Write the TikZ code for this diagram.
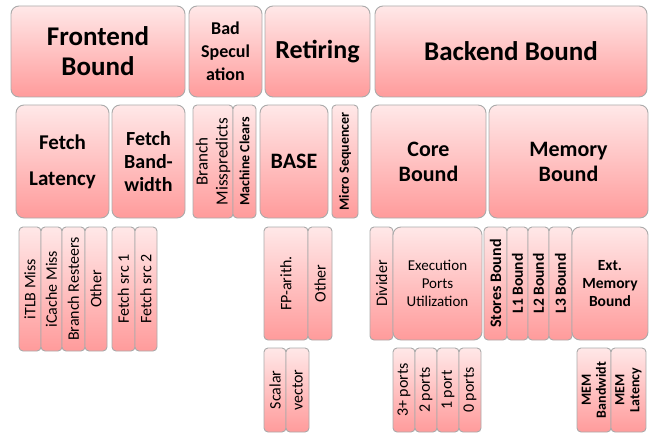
\documentclass[tikz,border=0pt]{standalone}
\usepackage{fontspec}
\setmainfont{Carlito}
\definecolor{ptop}{RGB}{255,232,232}
\definecolor{pbot}{RGB}{255,155,155}
\definecolor{bord}{RGB}{170,170,170}
\tikzset{
  box/.style={draw=bord, line width=0.9pt, top color=ptop, bottom color=pbot, rounded corners=#1},
  lbl/.style={inner sep=0pt, align=center, text=black},
  rot/.style={lbl, rotate=90},
  fbig/.style={font=\bfseries\fontsize{27}{30}\selectfont},
  fbad/.style={font=\bfseries\fontsize{18}{23}\selectfont},
  fmid/.style={font=\bfseries\fontsize{22}{25}\selectfont},
  fsmb/.style={font=\bfseries\fontsize{14}{15}\selectfont},
  fsm/.style={font=\fontsize{16}{19}\selectfont},
  fsmr/.style={font=\fontsize{15}{18}\selectfont},
  fsb/.style={font=\bfseries\fontsize{15.5}{18}\selectfont},
}
% #1 name, #2 radius, #3 x1, #4 y1, #5 x2, #6 y2, #7 text style, #8 text
\newcommand\tbox[8]{%
  \path[box=#2] (#3,#4) rectangle (#5,#6);
  \node[#7] (#1) at ({(#3+#5)/2},{(#4+#6)/2}) {#8};}
\begin{document}
\begin{tikzpicture}[x=1pt,y=-1pt]
\useasboundingbox (0,0) rectangle (650,433);
% Row 1
\tbox{fb}{8pt}{11}{6}{185}{97}{lbl,fbig}{Frontend\\Bound}
\tbox{bs}{8pt}{189}{6}{262}{97}{lbl,fbad}{Bad\\Specul\\ation}
\tbox{rt}{8pt}{265}{6}{370}{97}{lbl,font=\bfseries\fontsize{26}{30}\selectfont}{Retiring}
\tbox{bb}{8pt}{375}{6}{647}{97}{lbl,fbig}{Backend Bound}
% Row 2
\tbox{fl}{8pt}{16}{105}{109}{218}{lbl,font=\bfseries\fontsize{21}{36}\selectfont}{Fetch\\Latency}
\tbox{fbw}{8pt}{112}{105}{185}{218}{lbl,font=\bfseries\fontsize{20}{23}\selectfont}{Fetch\\Band-\\width}
\tbox{bm}{4pt}{193}{105}{233}{218}{rot,font=\fontsize{17}{20}\selectfont}{Branch\\Misspredicts}
\tbox{mc}{4pt}{233}{105}{256}{218}{rot,fsmb}{Machine Clears}
\tbox{base}{8pt}{260}{105}{328}{218}{lbl,fmid}{BASE}
\tbox{ms}{4pt}{332}{105}{358}{218}{rot,fsmb}{Micro Sequencer}
\tbox{cb}{8pt}{371}{105}{486}{218}{lbl,fmid}{Core\\Bound}
\tbox{mb}{8pt}{489}{105}{648}{218}{lbl,fmid}{Memory\\Bound}
% Row 3
\tbox{itlb}{4pt}{19}{227}{41}{351}{rot,fsm}{iTLB Miss}
\tbox{icm}{4pt}{41}{227}{62}{351}{rot,fsm}{iCache Miss}
\tbox{brs}{4pt}{62}{227}{85}{351}{rot,fsm}{Branch Resteers}
\tbox{oth}{4pt}{85}{227}{107}{351}{rot,fsm}{Other}
\tbox{fs1}{4pt}{112}{227}{135}{351}{rot,fsm}{Fetch src 1}
\tbox{fs2}{4pt}{135}{227}{157}{351}{rot,fsm}{Fetch src 2}
\tbox{fpa}{4pt}{264}{227}{308}{340}{rot,fsm}{FP-arith.}
\tbox{oth2}{4pt}{308}{227}{332}{340}{rot,fsm}{Other}
\tbox{div}{4pt}{370}{227}{393}{340}{rot,fsm}{Divider}
\tbox{epu}{8pt}{393}{227}{482}{340}{lbl,fsmr}{Execution\\Ports\\Utilization}
\tbox{sb}{4pt}{484}{227}{507}{340}{rot,font=\bfseries\fontsize{16}{18}\selectfont}{Stores Bound}
\tbox{l1}{4pt}{507}{227}{528}{340}{rot,fsb}{L1 Bound}
\tbox{l2}{4pt}{528}{227}{549}{340}{rot,fsb}{L2 Bound}
\tbox{l3}{4pt}{549}{227}{572}{340}{rot,fsb}{L3 Bound}
\tbox{emb}{8pt}{572}{227}{648}{340}{lbl,fsb}{Ext.\\Memory\\Bound}
% Row 4
\tbox{sc}{4pt}{264}{348}{286}{432}{rot,fsm}{Scalar}
\tbox{vec}{4pt}{286}{348}{309}{432}{rot,fsm}{vector}
\tbox{p3}{4pt}{393}{348}{415}{432}{rot,fsm}{3+ ports}
\tbox{p2}{4pt}{415}{348}{437}{432}{rot,fsm}{2 ports}
\tbox{p1}{4pt}{437}{348}{459}{432}{rot,fsm}{1 port}
\tbox{p0}{4pt}{459}{348}{481}{432}{rot,fsm}{0 ports}
\tbox{mbw}{4pt}{577}{348}{611}{432}{rot,fsmb}{MEM\\Bandwidt}
\tbox{mlat}{4pt}{611}{348}{646}{432}{rot,fsmb}{MEM\\Latency}
\end{tikzpicture}
\end{document}
